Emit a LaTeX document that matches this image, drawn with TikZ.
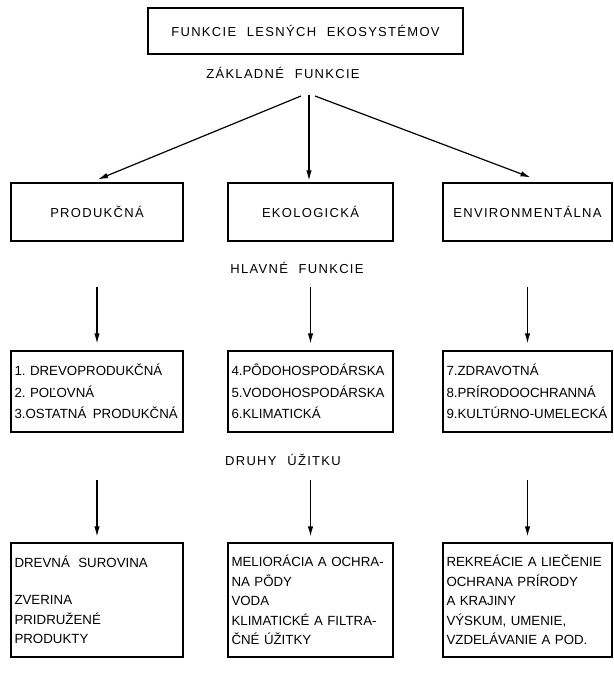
\documentclass[tikz,border=0pt]{standalone}
\usepackage{fontspec}
\setmainfont{Liberation Sans}
\newfontfamily\spacedfont[LetterSpace=10]{Liberation Sans}
\usetikzlibrary{arrows.meta}
\begin{document}
\begin{tikzpicture}[x=1pt,y=-1pt,
  every node/.style={font=\fontsize{13.3}{20}\selectfont},
  box/.style={draw, line width=1.2pt, inner xsep=3.5pt, inner ysep=0pt},
  title/.style={font=\spacedfont\fontsize{13}{16}\selectfont, inner sep=0pt},
  rowa/.style={box, minimum height=58pt, font=\spacedfont\fontsize{13}{16}\selectfont},
  rowb/.style={box, minimum height=81pt, align=left, font=\fontsize{13.3}{21.5}\selectfont},
  rowc/.style={box, minimum height=114pt, align=left, font=\fontsize{13.3}{19.5}\selectfont},
  arr/.style={line width=1.2pt, -{Latex[length=10pt,width=5.5pt]}}]
\useasboundingbox (0,0) rectangle (613,682);

% title
\node[box, minimum width=315pt, minimum height=46pt, font=\spacedfont\fontsize{13}{16}\selectfont] (top) at (305.5,31) {FUNKCIE\hspace{0.45em} LESNÝCH\hspace{0.45em} EKOSYSTÉMOV};
\node[title] (zakl) at (283,73) {ZÁKLADNÉ\hspace{0.45em} FUNKCIE};
\coordinate (hubL) at (301,96);
\coordinate (hubM) at (309,95);
\coordinate (hubR) at (315,96);

% row 2
\node[rowa, minimum width=172pt] (prod) at (97,212) {PRODUKČNÁ};
\node[rowa, minimum width=165pt] (eko) at (310.5,212) {EKOLOGICKÁ};
\node[rowa, minimum width=169pt] (env) at (527.5,212) {ENVIRONMENTÁLNA};

\draw[arr] (hubL) -- ([xshift=1pt,yshift=3pt]prod.north);
\draw[arr] (hubM) -- ([xshift=-1.5pt,yshift=2pt]eko.north);
\draw[arr] (hubR) -- ([xshift=3pt,yshift=5pt]env.north);

\node[title] (hlav) at (297,268) {HLAVNÉ\hspace{0.45em} FUNKCIE};

% row 3
\node[rowb, text width=165pt] (f13) at (97,391.5) {\mbox{1.\ DREVOPRODUKČNÁ}\\\mbox{2.\ POĽOVNÁ}\\\mbox{3.OSTATNÁ\hspace{0.15em} PRODUKČNÁ}};
\node[rowb, text width=158pt] (f46) at (310.5,391.5) {\mbox{4.PÔDOHOSPODÁRSKA}\\\mbox{5.VODOHOSPODÁRSKA}\\\mbox{6.KLIMATICKÁ}};
\node[rowb, text width=162pt] (f79) at (527.5,391.5) {\mbox{7.ZDRAVOTNÁ}\\\mbox{8.PRÍRODOOCHRANNÁ}\\\mbox{9.KULTÚRNO-UMELECKÁ}};

\coordinate (s1) at (97,287);
\coordinate (s2) at (310.5,287);
\coordinate (s3) at (527.5,287);
\draw[arr] (s1) -- ([yshift=7pt]f13.north);
\draw[arr] (s2) -- ([yshift=7pt]f46.north);
\draw[arr] (s3) -- ([yshift=7pt]f79.north);

\node[title] (druh) at (283,460) {DRUHY\hspace{0.45em} ÚŽITKU};

% row 4
\node[rowc, text width=165pt] (u1) at (97,600) {\mbox{DREVNÁ\hspace{0.3em} SUROVINA}\\[17.5pt]ZVERINA\\PRIDRUŽENÉ\\PRODUKTY};
\node[rowc, text width=158pt] (u2) at (310.5,600) {\mbox{MELIORÁCIA A OCHRA-}\\NA PÔDY\\VODA\\\mbox{KLIMATICKÉ A FILTRA-}\\ČNÉ ÚŽITKY};
\node[rowc, text width=162pt] (u3) at (527.5,600) {\mbox{REKREÁCIE A LIEČENIE}\\\mbox{OCHRANA PRÍRODY}\\A KRAJINY\\\mbox{VÝSKUM, UMENIE,}\\\mbox{VZDELÁVANIE A POD.}};

\coordinate (t1) at (97,480);
\coordinate (t2) at (310.5,480);
\coordinate (t3) at (527.5,480);
\draw[arr] (t1) -- ([yshift=6pt]u1.north);
\draw[arr] (t2) -- ([yshift=6pt]u2.north);
\draw[arr] (t3) -- ([yshift=6pt]u3.north);
\end{tikzpicture}
\end{document}
